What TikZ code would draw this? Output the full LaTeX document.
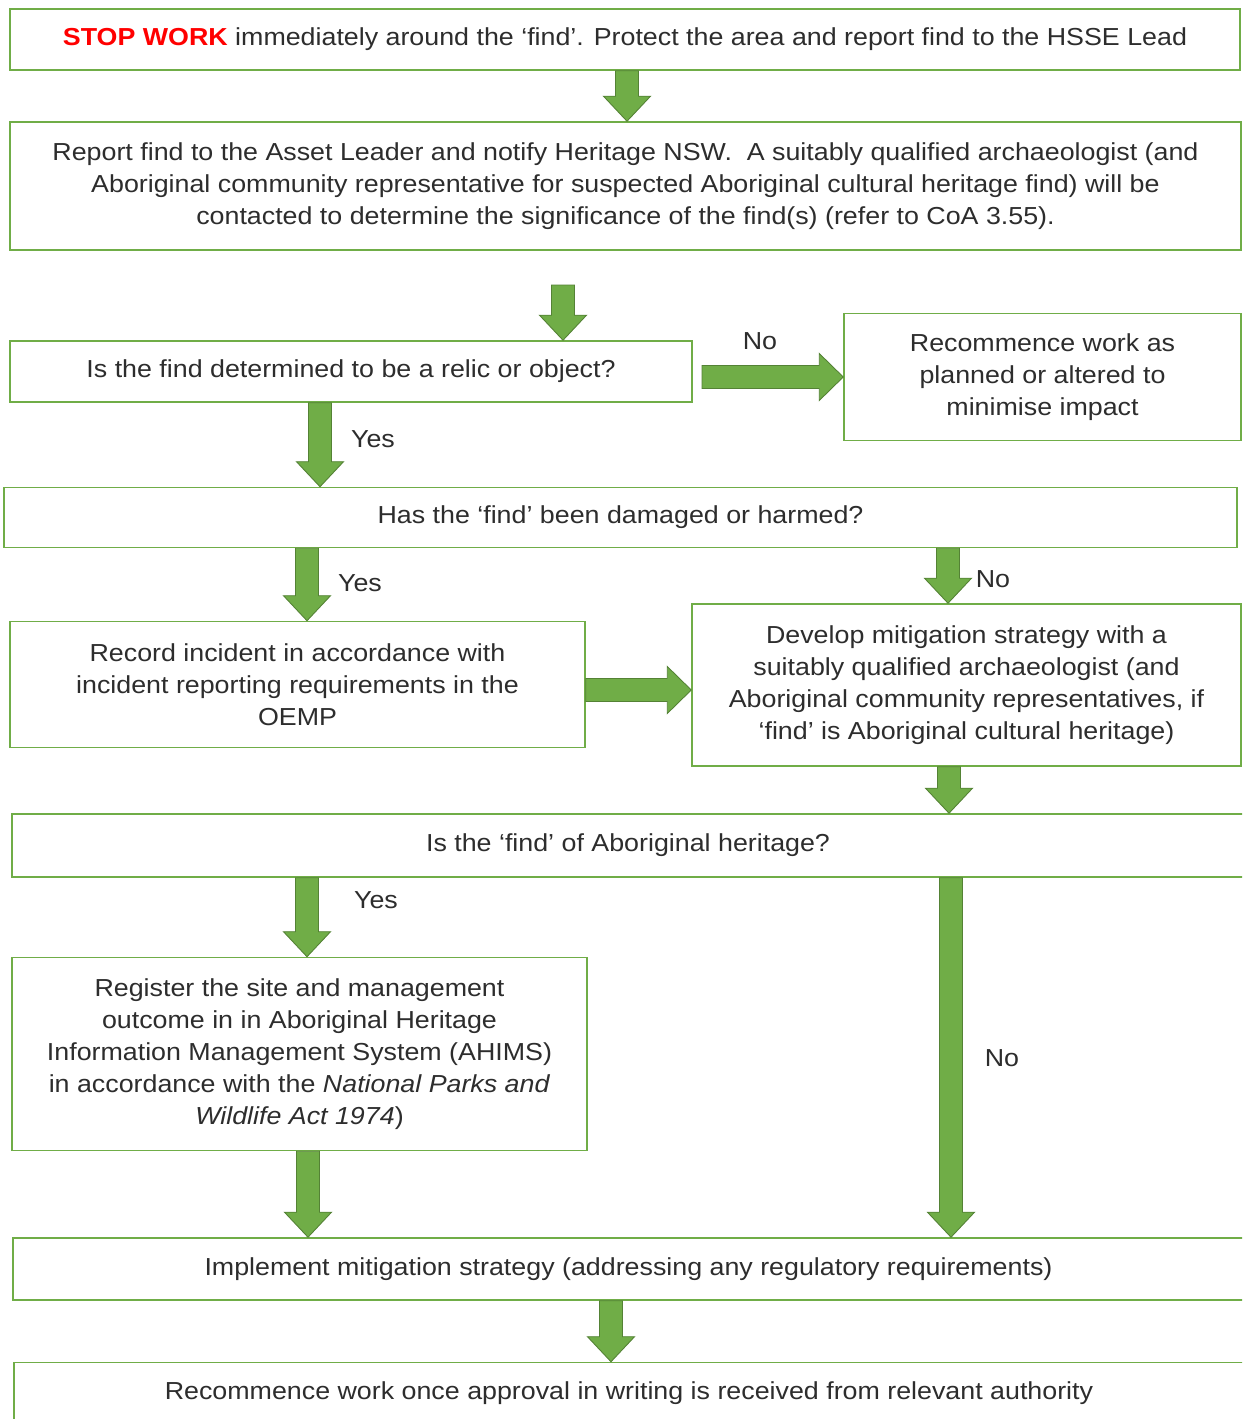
\documentclass[tikz,border=0pt]{standalone}
\usepackage{fontspec}
\setmainfont[FakeStretch=1.09]{Liberation Sans}
\usepackage{tikz}
\usetikzlibrary{calc}
\usepackage{xcolor}
\definecolor{findgreen}{RGB}{112,173,71}
\definecolor{findgreendark}{RGB}{84,130,53}
\definecolor{findtext}{RGB}{45,45,45}
\definecolor{findred}{RGB}{255,0,0}

\newcommand\flowdown[3]{%
  \filldraw[fatarrow] let \p1=(#2), \p2=(#3), \p3=(#1,0) in
    (\x3-0.23cm,\y1) -- (\x3+0.23cm,\y1) -- (\x3+0.23cm,\y2+0.5cm) -- (\x3+0.47cm,\y2+0.5cm)
    -- (\x3,\y2) -- (\x3-0.47cm,\y2+0.5cm) -- (\x3-0.23cm,\y2+0.5cm) -- cycle;}
\newcommand\flowright[3]{%
  \filldraw[fatarrow] let \p1=(#2), \p2=(#3), \p3=(0,#1) in
    (\x1,\y3+0.23cm) -- (\x2-0.48cm,\y3+0.23cm) -- (\x2-0.48cm,\y3+0.47cm) -- (\x2,\y3)
    -- (\x2-0.48cm,\y3-0.47cm) -- (\x2-0.48cm,\y3-0.23cm) -- (\x1,\y3-0.23cm) -- cycle;}

\begin{document}
\begin{tikzpicture}[
      x=0.02cm,y=-0.02cm,
      flowbox/.style={draw=findgreen,line width=0.9pt,fill=white,align=center,text=findtext,inner sep=0pt,
        font=\fontsize{14}{18.2}\selectfont},
      lbl/.style={text=findtext,inner sep=0pt,font=\fontsize{14}{18.2}\selectfont},
      fatarrow/.style={fill=findgreen,draw=findgreendark,line width=0.5pt,line join=miter}
    ]
    \path[use as bounding box,clip] (0,0) rectangle (1242,1419);
    \fill[white] (0,0) rectangle (1242,1419);

    \node[flowbox,minimum width=24.6cm,minimum height=1.22cm] (stop) at (625,39.5)
      {\textcolor{findred}{\textbf{STOP WORK}} immediately around the ‘find’. Protect the area and report find to the HSSE Lead};
    \node[flowbox,minimum width=24.62cm,minimum height=2.56cm] (report) at (625.5,186)
      {Report find to the Asset Leader and notify Heritage NSW.\ \ A suitably qualified archaeologist (and\\
       Aboriginal community representative for suspected Aboriginal cultural heritage find) will be\\
       contacted to determine the significance of the find(s) (refer to CoA 3.55).};
    \node[flowbox,minimum width=13.64cm,minimum height=1.22cm] (relic) at (351,371.5)
      {Is the find determined to be a relic or object?};
    \node[flowbox,minimum width=7.94cm,minimum height=2.54cm] (resume) at (1042.5,377)
      {Recommence work as\\ planned or altered to\\ minimise impact};
    \node[flowbox,minimum width=24.66cm,minimum height=1.2cm] (damaged) at (620.5,517.5)
      {Has the ‘find’ been damaged or harmed?};
    \node[flowbox,minimum width=11.5cm,minimum height=2.52cm] (record) at (297.5,684.5)
      {Record incident in accordance with\\ incident reporting requirements in the\\ OEMP};
    \node[flowbox,minimum width=10.98cm,minimum height=3.24cm] (develop) at (966.5,685)
      {Develop mitigation strategy with a\\ suitably qualified archaeologist (and\\
       Aboriginal community representatives, if\\ ‘find’ is Aboriginal cultural heritage)};
    \node[flowbox,minimum width=24.64cm,minimum height=1.26cm] (aboriginal) at (628,845.5)
      {Is the ‘find’ of Aboriginal heritage?};
    \node[flowbox,minimum width=11.5cm,minimum height=3.86cm] (register) at (299.5,1054)
      {Register the site and management\\ outcome in in Aboriginal Heritage\\
       Information Management System (AHIMS)\\ in accordance with the \textit{National Parks and}\\
       \textit{Wildlife Act 1974})};
    \node[flowbox,minimum width=24.62cm,minimum height=1.24cm] (implement) at (628.5,1269)
      {Implement mitigation strategy (addressing any regulatory requirements)};
    \node[flowbox,minimum width=24.6cm,minimum height=1.24cm] (final) at (629,1393.5)
      {Recommence work once approval in writing is received from relevant authority};

    \coordinate (relictop) at (563,285);
    \coordinate (relicright) at (702,377);

    \flowdown{627}{stop.south}{report.north}
    \flowdown{563}{relictop}{relic.north}
    \flowright{377}{relicright}{resume.west}
    \flowdown{320}{relic.south}{damaged.north}
    \flowdown{307}{damaged.south}{record.north}
    \flowdown{948}{damaged.south}{develop.north}
    \flowright{690}{record.east}{develop.west}
    \flowdown{949}{develop.south}{aboriginal.north}
    \flowdown{307}{aboriginal.south}{register.north}
    \flowdown{951}{aboriginal.south}{implement.north}
    \flowdown{308}{register.south}{implement.north}
    \flowdown{611}{implement.south}{final.north}

    \node[lbl] (no1) at (760,341) {No};
    \node[lbl] (yes1) at (373,439) {Yes};
    \node[lbl] (yes2) at (360,583) {Yes};
    \node[lbl] (no2) at (993,579) {No};
    \node[lbl] (yes3) at (376,900) {Yes};
    \node[lbl] (no3) at (1002,1058) {No};
  \end{tikzpicture}
\end{document}
